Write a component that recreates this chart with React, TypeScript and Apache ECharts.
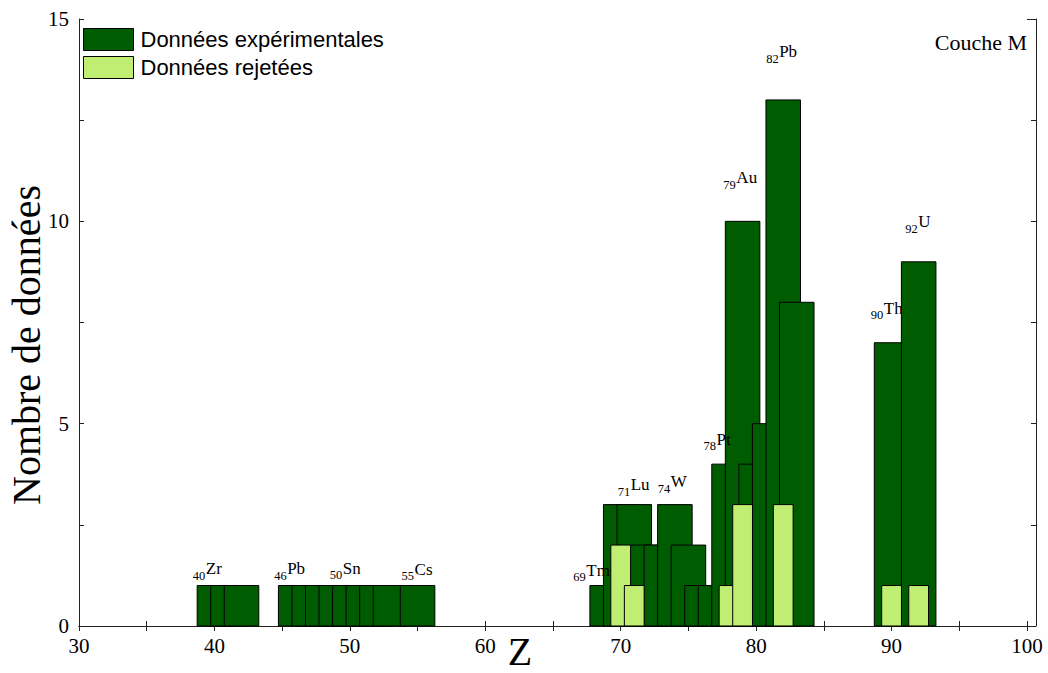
import React, { useEffect, useRef } from "react";
import * as echarts from "echarts";

// Experimental data: atomic number Z -> number of data points
const dataZ = [40, 41, 42, 46, 47, 48, 49, 50, 51, 52, 53, 55, 69, 70, 71, 72, 73, 74, 75, 76, 77, 78, 79, 80, 81, 82, 83, 90, 92];
const dataCounts = [1, 1, 1, 1, 1, 1, 1, 1, 1, 1, 1, 1, 1, 3, 3, 2, 2, 3, 2, 1, 1, 4, 10, 4, 5, 13, 8, 7, 9];

// Rejected data
const rejZ = [70, 71, 78, 79, 82, 90, 92];
const rejCounts = [2, 1, 1, 3, 3, 1, 1];

// Element annotations (subscript number + symbol), anchored in data units
const elemNumbers = ["40", "46", "50", "55", "69", "71", "74", "78", "79", "82", "90", "92"];
const elemSymbols = ["Zr", "Pb", "Sn", "Cs", "Tm", "Lu", "W", "Pt", "Au", "Pb", "Th", "U"];
const elemLabelX = [38.4, 44.41, 48.52, 53.82, 66.5, 69.78, 72.74, 76.11, 77.58, 80.74, 88.47, 91.01];
const elemLabelY = [1.42, 1.42, 1.43, 1.4, 1.38, 3.49, 3.56, 4.61, 11.08, 14.19, 7.85, 9.99];

const seriesNames = ["Données expérimentales", "Données rejetées"];
const xTitle = "Z";
const yTitle = "Nombre de données";
const cornerText = "Couche M";

const DARK = "#005c00";
const LIGHT = "#bfee73";
const SERIF = "'Liberation Serif', 'Times New Roman', serif";
const SANS = "'Liberation Sans', Arial, sans-serif";

function barRenderer(width: number, color: string) {
  return (params: any, api: any) => {
    const z = api.value(0);
    const h = api.value(1);
    const p0 = api.coord([z - width / 2, h]);
    const p1 = api.coord([z + width / 2, 0]);
    return {
      type: "rect",
      shape: { x: p0[0], y: p0[1], width: p1[0] - p0[0], height: p1[1] - p0[1] },
      style: { fill: color, stroke: "#000", lineWidth: 1 },
    };
  };
}

export default function App() {
  const ref = useRef<HTMLDivElement>(null);
  useEffect(() => {
    if (!ref.current) return;
    const chart = echarts.init(ref.current, null, { renderer: "svg" });
    const axisLineStyle = { color: "#222", width: 1 };
    const xCommon = {
      type: "value",
      min: 30,
      max: 100,
      interval: 10,
      splitLine: { show: false },
      axisLine: { show: true, lineStyle: axisLineStyle },
      axisTick: { show: true, inside: true, length: 5, lineStyle: axisLineStyle },
      minorTick: { show: true, splitNumber: 2, length: 5, lineStyle: axisLineStyle },
    };
    const yCommon = {
      type: "value",
      min: 0,
      max: 15,
      interval: 5,
      splitLine: { show: false },
      axisLine: { show: true, lineStyle: axisLineStyle },
      axisTick: { show: true, inside: true, length: 5, lineStyle: axisLineStyle },
      minorTick: { show: true, splitNumber: 2, length: 5, lineStyle: axisLineStyle },
    };
    const option: any = {
      animation: false,
      backgroundColor: "#fff",
      grid: { left: 79, right: 21, top: 19, bottom: 47 },
      legend: {
        data: seriesNames,
        orient: "vertical",
        left: 83,
        top: 28,
        padding: 0,
        itemGap: 5,
        itemWidth: 50,
        itemHeight: 22,
        icon: "rect",
        itemStyle: { borderColor: "#000", borderWidth: 1 },
        textStyle: { fontFamily: SANS, fontSize: 22, color: "#000", padding: [0, 0, 0, 2] },
        selectedMode: false,
      },
      xAxis: [
        {
          ...xCommon,
          position: "bottom",
          axisLabel: { show: true, fontFamily: SERIF, fontSize: 21, color: "#000", margin: 9 },
        },
        { ...xCommon, position: "top", axisLabel: { show: false } },
      ],
      yAxis: [
        {
          ...yCommon,
          position: "left",
          axisLabel: { show: true, fontFamily: SERIF, fontSize: 21, color: "#000", margin: 10 },
        },
        { ...yCommon, position: "right", offset: 9, axisLabel: { show: false } },
      ],
      series: [
        {
          name: seriesNames[0],
          type: "custom",
          xAxisIndex: 0,
          yAxisIndex: 0,
          itemStyle: { color: DARK, borderColor: "#000", borderWidth: 1 },
          encode: { x: 0, y: 1 },
          data: dataZ.map((z, i) => [z, dataCounts[i]]),
          renderItem: barRenderer(2.55, DARK),
        },
        {
          name: seriesNames[1],
          type: "custom",
          xAxisIndex: 0,
          yAxisIndex: 0,
          itemStyle: { color: LIGHT, borderColor: "#000", borderWidth: 1 },
          encode: { x: 0, y: 1 },
          data: rejZ.map((z, i) => [z, rejCounts[i]]),
          renderItem: barRenderer(1.46, LIGHT),
        },
        {
          name: "labels",
          type: "custom",
          xAxisIndex: 0,
          yAxisIndex: 0,
          silent: true,
          itemStyle: { color: "#000" },
          encode: { x: 0, y: 1 },
          data: elemLabelX.map((x, i) => [x, elemLabelY[i], i]),
          renderItem: (params: any, api: any) => {
            const i = api.value(2);
            const p = api.coord([api.value(0), api.value(1)]);
            const num = elemNumbers[i];
            const subSize = 12.5;
            const numW = num.length * subSize * 0.5;
            return {
              type: "group",
              children: [
                {
                  type: "text",
                  x: p[0],
                  y: p[1] + 7,
                  style: {
                    text: num,
                    fontFamily: SERIF,
                    fontSize: subSize,
                    fill: "#000",
                    align: "left",
                    verticalAlign: "middle",
                  },
                },
                {
                  type: "text",
                  x: p[0] + numW + 0.5,
                  y: p[1],
                  style: {
                    text: elemSymbols[i],
                    fontFamily: SERIF,
                    fontSize: 17,
                    fill: "#000",
                    align: "left",
                    verticalAlign: "middle",
                  },
                },
              ],
            };
          },
        },
      ],
      graphic: [
        {
          type: "text",
          x: 26,
          y: 345,
          rotation: Math.PI / 2,
          style: {
            text: yTitle,
            fontFamily: SERIF,
            fontSize: 40,
            fill: "#000",
            align: "center",
            verticalAlign: "middle",
          },
        },
        {
          type: "text",
          x: 520,
          y: 651,
          style: {
            text: xTitle,
            fontFamily: SERIF,
            fontSize: 40,
            fill: "#000",
            align: "center",
            verticalAlign: "middle",
          },
        },
        {
          type: "text",
          x: 1027,
          y: 42,
          style: {
            text: cornerText,
            fontFamily: SERIF,
            fontSize: 22,
            fill: "#000",
            align: "right",
            verticalAlign: "middle",
          },
        },
        {
          type: "line",
          shape: { x1: 1027, y1: 19.5, x2: 1036, y2: 19.5 },
          style: { stroke: "#222", lineWidth: 1 },
        },
        {
          type: "line",
          shape: { x1: 1027, y1: 626.5, x2: 1036, y2: 626.5 },
          style: { stroke: "#222", lineWidth: 1 },
        },
      ],
    };
    chart.setOption(option);
    return () => chart.dispose();
  }, []);
  return (
    <div
      ref={ref}
      style={{ position: "fixed", left: 0, top: 0, width: "1048px", height: "673px", background: "#fff" }}
    />
  );
}
